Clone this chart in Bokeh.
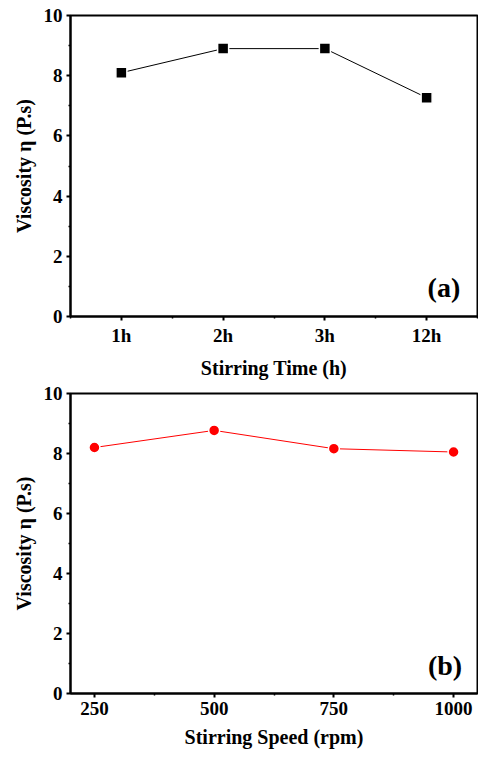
from bokeh.plotting import figure
from bokeh.models import Range1d, FixedTicker, Label
from bokeh.layouts import column
from bokeh.embed import file_html
from bokeh.resources import INLINE

# ---- data ----
time_labels = ["1h", "2h", "3h", "12h"]
time_pos = [1, 2, 3, 4]
visc_time = [8.1, 8.9, 8.9, 7.27]

speed = [250, 500, 750, 1000]
visc_speed = [8.2, 8.77, 8.16, 8.05]

y_major = [0, 2, 4, 6, 8, 10]
y_minor = [1, 3, 5, 7, 9]

FONT = "Liberation Serif"


def style(p, xlabel):
    p.outline_line_color = "black"
    p.outline_line_width = 2
    p.xgrid.visible = False
    p.ygrid.visible = False
    p.background_fill_color = "white"
    p.border_fill_color = "white"
    for ax in (p.xaxis[0], p.yaxis[0]):
        ax.axis_line_width = 2
        ax.major_tick_in = 0
        ax.major_tick_out = 4
        ax.minor_tick_in = 0
        ax.minor_tick_out = 2
        ax.major_tick_line_width = 2
        ax.minor_tick_line_width = 1.5
        ax.major_label_text_font = FONT
        ax.major_label_text_font_style = "bold"
        ax.major_label_text_font_size = "19px"
        ax.major_label_text_color = "black"
        ax.axis_label_text_font = FONT
        ax.axis_label_text_font_style = "bold"
        ax.axis_label_text_font_size = "20px"
        ax.axis_label_text_color = "black"
        ax.major_label_standoff = 4
    p.yaxis[0].axis_label = "Viscosity \u03b7 (P.s)"
    p.yaxis[0].axis_label_standoff = 6
    p.xaxis[0].axis_label = xlabel
    p.xaxis[0].axis_label_standoff = 8
    p.yaxis[0].ticker = FixedTicker(ticks=y_major, minor_ticks=y_minor)


# ---- panel (a) ----
pa = figure(width=478, height=382, output_backend="svg", toolbar_location=None,
            x_range=Range1d(0.5, 4.5), y_range=Range1d(0, 10),
            min_border_left=70, min_border_right=1, min_border_top=15, min_border_bottom=66)
style(pa, "Stirring Time (h)")
pa.xaxis[0].ticker = FixedTicker(ticks=time_pos, minor_ticks=[0.5, 1.5, 2.5, 3.5, 4.5])
pa.xaxis[0].major_label_overrides = {p: l for p, l in zip(time_pos, time_labels)}
pa.line(time_pos, visc_time, line_color="black", line_width=1)
pa.scatter(time_pos, visc_time, marker="square", size=11, fill_color="black",
           line_color="white", line_width=1.5)
pa.add_layout(Label(x=4.33, y=0.98, text="(a)", text_align="right", text_baseline="middle",
                    text_font=FONT, text_font_style="bold", text_font_size="28px",
                    text_color="black"))

# ---- panel (b) ----
pb = figure(width=478, height=376, output_backend="svg", toolbar_location=None,
            x_range=Range1d(200, 1050), y_range=Range1d(0, 10),
            min_border_left=70, min_border_right=1, min_border_top=11, min_border_bottom=65)
style(pb, "Stirring Speed (rpm)")
pb.xaxis[0].ticker = FixedTicker(ticks=speed, minor_ticks=[375, 625, 875])
pb.line(speed, visc_speed, line_color="red", line_width=1)
pb.scatter(speed, visc_speed, marker="circle", size=11, fill_color="red",
           line_color="white", line_width=1.5)
pb.add_layout(Label(x=1018, y=0.93, text="(b)", text_align="right", text_baseline="middle",
                    text_font=FONT, text_font_style="bold", text_font_size="28px",
                    text_color="black"))

layout = column(pa, pb, spacing=0)
open("out.html", "w").write(file_html(layout, INLINE))
